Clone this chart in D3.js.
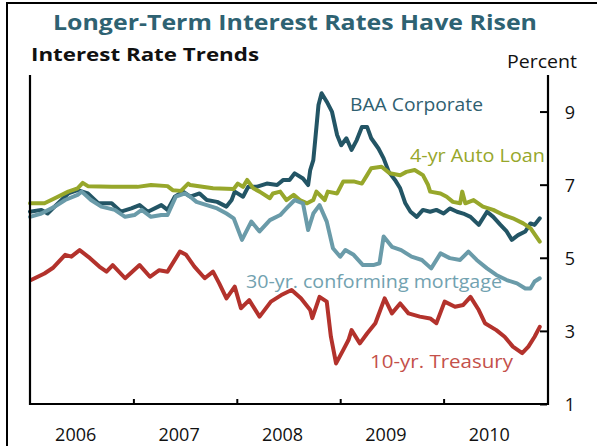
<!DOCTYPE html>
<html>
<head>
<meta charset="utf-8">
<script src="https://cdn.jsdelivr.net/npm/d3@7"></script>
<style>
  html, body { margin: 0; padding: 0; background: #fff; }
  svg { display: block; }
</style>
</head>
<body>
<svg id="chart" width="597" height="446"></svg>
<script>
// ---- DATA (decimal year, percent) ----
const years = [2006, 2007, 2008, 2009, 2010];
const yTicks = [1, 3, 5, 7, 9];

const baaCorporate = [
  [2006.00,6.26],[2006.11,6.31],[2006.17,6.21],[2006.27,6.49],[2006.37,6.76],[2006.46,6.85],
  [2006.56,6.76],[2006.66,6.49],[2006.79,6.49],[2006.88,6.26],[2006.98,6.35],[2007.06,6.44],
  [2007.14,6.26],[2007.27,6.44],[2007.33,6.31],[2007.40,6.67],[2007.48,6.81],[2007.55,6.67],
  [2007.64,6.76],[2007.71,6.58],[2007.81,6.53],[2007.90,6.40],[2007.95,6.58],[2007.98,6.81],
  [2008.06,6.67],[2008.11,6.94],[2008.19,6.94],[2008.29,7.03],[2008.39,6.99],[2008.45,7.13],
  [2008.51,7.13],[2008.56,7.31],[2008.64,7.17],[2008.69,6.99],[2008.71,7.40],[2008.74,7.67],
  [2008.76,8.27],[2008.79,9.18],[2008.82,9.50],[2008.87,9.27],[2008.92,9.00],[2008.97,8.36],
  [2009.01,8.08],[2009.06,8.27],[2009.11,7.95],[2009.16,8.22],[2009.21,8.58],[2009.26,8.58],
  [2009.30,8.27],[2009.37,7.99],[2009.42,7.72],[2009.47,7.35],[2009.53,7.13],[2009.58,6.90],
  [2009.63,6.49],[2009.68,6.26],[2009.74,6.12],[2009.80,6.31],[2009.87,6.26],[2009.93,6.31],
  [2010.00,6.21],[2010.06,6.35],[2010.13,6.26],[2010.19,6.21],[2010.26,6.12],[2010.34,5.90],
  [2010.42,6.26],[2010.48,6.12],[2010.55,5.90],[2010.61,5.72],[2010.66,5.49],[2010.72,5.62],
  [2010.79,5.72],[2010.84,5.94],[2010.88,5.90],[2010.93,6.08]
];

const autoLoan = [
  [2006.00,6.49],[2006.14,6.49],[2006.24,6.63],[2006.37,6.81],[2006.46,6.90],[2006.51,7.05],
  [2006.56,6.96],[2006.79,6.94],[2007.04,6.94],[2007.17,6.99],[2007.33,6.96],[2007.38,6.85],
  [2007.46,6.83],[2007.53,7.03],[2007.55,6.99],[2007.77,6.90],[2007.97,6.88],[2008.01,7.03],
  [2008.06,6.94],[2008.10,7.13],[2008.16,6.90],[2008.22,6.81],[2008.32,6.63],[2008.35,6.76],
  [2008.42,6.81],[2008.48,6.58],[2008.55,6.72],[2008.61,6.58],[2008.68,6.49],[2008.74,6.58],
  [2008.77,6.81],[2008.85,6.58],[2008.88,6.81],[2008.97,6.76],[2009.03,7.09],[2009.13,7.09],
  [2009.21,7.03],[2009.26,7.26],[2009.30,7.45],[2009.40,7.49],[2009.48,7.31],[2009.58,7.26],
  [2009.64,7.35],[2009.72,7.40],[2009.80,7.26],[2009.85,6.99],[2009.87,6.81],[2009.97,6.76],
  [2010.03,6.67],[2010.09,6.53],[2010.16,6.49],[2010.18,6.81],[2010.21,6.49],[2010.29,6.58],
  [2010.38,6.40],[2010.48,6.31],[2010.58,6.17],[2010.67,6.08],[2010.77,5.94],[2010.84,5.81],
  [2010.93,5.44]
];

const mortgage30 = [
  [2006.00,6.12],[2006.11,6.21],[2006.24,6.40],[2006.34,6.58],[2006.46,6.72],[2006.50,6.81],
  [2006.59,6.58],[2006.69,6.40],[2006.82,6.31],[2006.92,6.12],[2007.01,6.17],[2007.08,6.31],
  [2007.17,6.12],[2007.27,6.17],[2007.33,6.17],[2007.41,6.67],[2007.50,6.76],[2007.55,6.67],
  [2007.61,6.53],[2007.71,6.44],[2007.81,6.35],[2007.90,6.21],[2007.97,6.08],[2008.05,5.49],
  [2008.14,5.99],[2008.22,5.72],[2008.32,6.03],[2008.42,6.17],[2008.48,6.35],[2008.56,6.58],
  [2008.64,6.49],[2008.69,5.76],[2008.74,6.21],[2008.80,6.44],[2008.87,5.99],[2008.93,5.26],
  [2009.00,5.03],[2009.05,5.21],[2009.13,5.08],[2009.22,4.80],[2009.32,4.80],[2009.38,4.85],
  [2009.42,5.58],[2009.50,5.30],[2009.59,5.21],[2009.69,5.03],[2009.79,4.94],[2009.88,4.71],
  [2009.97,5.12],[2010.06,4.99],[2010.16,4.94],[2010.24,5.17],[2010.32,4.94],[2010.42,4.71],
  [2010.51,4.53],[2010.61,4.39],[2010.71,4.30],[2010.79,4.16],[2010.84,4.16],[2010.88,4.35],
  [2010.93,4.44]
];

const treasury10 = [
  [2006.01,4.39],[2006.14,4.57],[2006.22,4.72],[2006.34,5.08],[2006.40,5.03],[2006.48,5.21],
  [2006.58,4.99],[2006.67,4.76],[2006.74,4.62],[2006.80,4.80],[2006.92,4.44],[2007.06,4.80],
  [2007.16,4.48],[2007.25,4.66],[2007.33,4.62],[2007.45,5.17],[2007.51,5.08],[2007.59,4.76],
  [2007.69,4.44],[2007.77,4.62],[2007.83,4.30],[2007.90,3.89],[2007.98,4.21],[2008.04,3.62],
  [2008.12,3.84],[2008.22,3.39],[2008.33,3.80],[2008.43,3.98],[2008.53,4.12],[2008.62,3.89],
  [2008.71,3.57],[2008.73,3.35],[2008.80,3.93],[2008.87,3.80],[2008.91,2.84],[2008.96,2.11],
  [2009.03,2.48],[2009.08,2.75],[2009.11,3.02],[2009.19,2.66],[2009.26,2.93],[2009.34,3.21],
  [2009.43,3.89],[2009.50,3.48],[2009.58,3.75],[2009.66,3.48],[2009.77,3.39],[2009.87,3.34],
  [2009.93,3.21],[2010.01,3.80],[2010.11,3.66],[2010.19,3.71],[2010.26,3.93],[2010.34,3.57],
  [2010.40,3.21],[2010.51,3.02],[2010.59,2.84],[2010.67,2.57],[2010.76,2.39],[2010.82,2.57],
  [2010.88,2.84],[2010.93,3.11]
];

const seriesNames = ["BAA Corporate", "4-yr Auto Loan", "30-yr. conforming mortgage", "10-yr. Treasury"];

// ---- CHART ----
const svg = d3.select("#chart");
const x = d3.scaleLinear().domain([2006, 2011]).range([30, 547]);
const y = d3.scaleLinear().domain([1, 10]).range([404, 75]);

// outer frame (left and top edges)
svg.append("path").attr("d", "M7,446 V3 H597").attr("fill", "none").attr("stroke", "#000").attr("stroke-width", 2);

// title
svg.append("text").attr("x", 295).attr("y", 30).attr("text-anchor", "middle")
  .attr("font-family", "Open Sans, sans-serif").attr("font-weight", 700).attr("font-size", 21)
  .attr("fill", "#2e6272").attr("textLength", 484).attr("lengthAdjust", "spacingAndGlyphs")
  .text("Longer-Term Interest Rates Have Risen");
svg.append("text").attr("x", 31).attr("y", 61)
  .attr("font-family", "Open Sans, sans-serif").attr("font-weight", 700).attr("font-size", 18)
  .attr("fill", "#111").attr("textLength", 228).attr("lengthAdjust", "spacingAndGlyphs")
  .text("Interest Rate Trends");
svg.append("text").attr("x", 507).attr("y", 68)
  .attr("font-family", "Open Sans, sans-serif").attr("font-size", 18)
  .attr("fill", "#111").attr("textLength", 70).attr("lengthAdjust", "spacingAndGlyphs")
  .text("Percent");

// lines
const line = d3.line().x(d => x(d[0])).y(d => y(d[1]));
const defs = [
  {data: baaCorporate, color: "#235565"},
  {data: autoLoan, color: "#97a72b"},
  {data: mortgage30, color: "#6a9ba9"},
  {data: treasury10, color: "#b3322c"}
];
defs.forEach(s => {
  svg.append("path").datum(s.data).attr("d", line)
    .attr("fill", "none").attr("stroke", s.color).attr("stroke-width", 4)
    .attr("stroke-linejoin", "round").attr("stroke-linecap", "round");
});

// axes
const gRight = svg.append("g").attr("transform", `translate(${x(2011)},0)`)
  .call(d3.axisLeft(y).tickValues(yTicks).tickSize(7).tickFormat(""));
gRight.select(".domain").remove();
gRight.selectAll("line").attr("stroke", "#000").attr("stroke-width", 2);
yTicks.forEach(t => {
  svg.append("text").attr("x", 570).attr("y", y(t) + 7).attr("text-anchor", "middle")
    .attr("font-family", "Open Sans, sans-serif").attr("font-size", 18).attr("fill", "#111").text(t);
});

const gBottom = svg.append("g").attr("transform", `translate(0,${y(1)})`)
  .call(d3.axisTop(x).tickValues([2007, 2008, 2009, 2010]).tickSize(5).tickFormat(""));
gBottom.select(".domain").remove();
gBottom.selectAll("line").attr("stroke", "#000").attr("stroke-width", 2);
years.forEach(yr => {
  svg.append("text").attr("x", x(yr + 0.5) - 6).attr("y", 441).attr("text-anchor", "middle")
    .attr("font-family", "Open Sans, sans-serif").attr("font-size", 18).attr("fill", "#111").text(yr);
});

// axis frame lines
svg.append("path").attr("d", `M${x(2006)},${y(10)} V${y(1)} H${x(2011)+1} V${y(10)}`)
  .attr("fill", "none").attr("stroke", "#000").attr("stroke-width", 2.2);

// series labels
const labels = [
  {t: seriesNames[0], x: 350, y: 111, w: 133, c: "#2f6070"},
  {t: seriesNames[1], x: 410, y: 162, w: 135, c: "#97a72b"},
  {t: seriesNames[2], x: 246, y: 288, w: 256, c: "#72a2b0"},
  {t: seriesNames[3], x: 370, y: 368, w: 143, c: "#c4504a"}
];
labels.forEach(l => {
  svg.append("text").attr("x", l.x).attr("y", l.y)
    .attr("font-family", "Open Sans, sans-serif").attr("font-size", 18).attr("fill", l.c)
    .attr("textLength", l.w).attr("lengthAdjust", "spacingAndGlyphs").text(l.t);
});
</script>
</body>
</html>
